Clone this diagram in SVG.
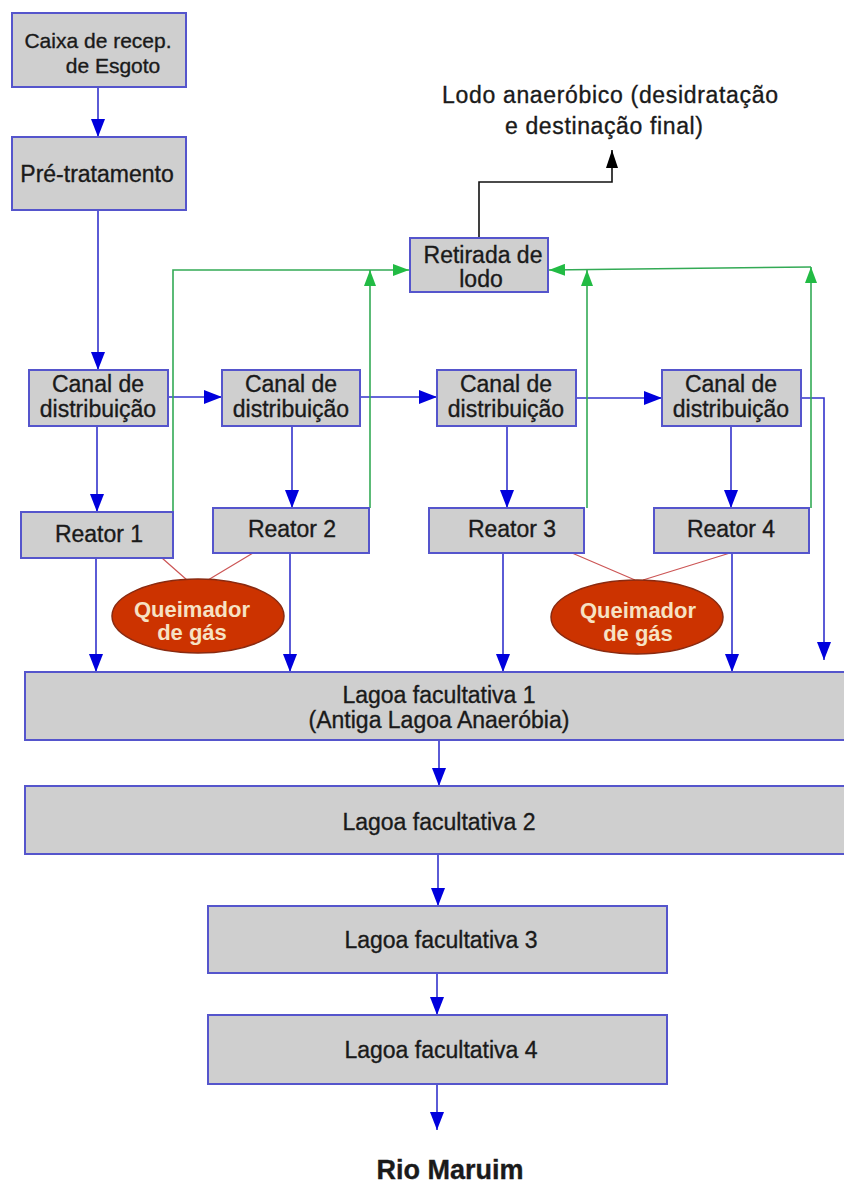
<svg xmlns="http://www.w3.org/2000/svg" width="844" height="1185" viewBox="0 0 844 1185">
<defs>
<style>
.box{fill:#cfcfcf;stroke:#5555cc;stroke-width:2}
.t{font-family:"Liberation Sans",Arial,sans-serif;font-size:23px;fill:#1a1a1a;stroke:#1a1a1a;stroke-width:0.35;text-anchor:middle}
.q{font-family:"Liberation Sans",Arial,sans-serif;font-size:22px;font-weight:bold;fill:#f6e2c4;text-anchor:middle}
.blue{fill:none;stroke:#3333cc;stroke-width:1.6}
.green{fill:none;stroke:#33aa55;stroke-width:1.6}
.black{fill:none;stroke:#111;stroke-width:1.6}
.red{fill:none;stroke:#cc5555;stroke-width:1.2}
.burner{fill:#cc3300;stroke:#8a2a10;stroke-width:1.5}
</style>
<marker id="ab" viewBox="0 0 18 14" refX="18" refY="7" markerWidth="18" markerHeight="14" markerUnits="userSpaceOnUse" orient="auto"><path d="M0,0 L18,7 L0,14 z" fill="#0000dd"/></marker>
<marker id="ag" viewBox="0 0 16 12" refX="16" refY="6" markerWidth="16" markerHeight="12" markerUnits="userSpaceOnUse" orient="auto"><path d="M0,0 L16,6 L0,12 z" fill="#22bb44"/></marker>
<marker id="ak" viewBox="0 0 18 12" refX="18" refY="6" markerWidth="18" markerHeight="12" markerUnits="userSpaceOnUse" orient="auto"><path d="M0,0 L18,6 L0,12 z" fill="#000"/></marker>
</defs>
<rect width="844" height="1185" fill="#fff"/>

<g id="connectors">
<path class="blue" marker-end="url(#ab)" d="M98,87 V137"/>
<path class="blue" marker-end="url(#ab)" d="M98,210 V370"/>
<path class="blue" marker-end="url(#ab)" d="M168,397 H222"/>
<path class="blue" marker-end="url(#ab)" d="M360,397 H437"/>
<path class="blue" marker-end="url(#ab)" d="M576,398 H662"/>
<path class="blue" marker-end="url(#ab)" d="M801,398 H824 V660"/>
<path class="blue" marker-end="url(#ab)" d="M97,426 V512"/>
<path class="blue" marker-end="url(#ab)" d="M292,426 V508"/>
<path class="blue" marker-end="url(#ab)" d="M507,426 V508"/>
<path class="blue" marker-end="url(#ab)" d="M731,426 V508"/>
<path class="blue" marker-end="url(#ab)" d="M96,558 V672"/>
<path class="blue" marker-end="url(#ab)" d="M290,553 V672"/>
<path class="blue" marker-end="url(#ab)" d="M503,553 V672"/>
<path class="blue" marker-end="url(#ab)" d="M732,553 V672"/>
<path class="blue" marker-end="url(#ab)" d="M439,740 V786"/>
<path class="blue" marker-end="url(#ab)" d="M438,854 V906"/>
<path class="blue" marker-end="url(#ab)" d="M437,973 V1015"/>
<path class="blue" marker-end="url(#ab)" d="M437,1084 V1130"/>
<path class="black" marker-end="url(#ak)" d="M479,238 V182 H612 V150"/>
<path class="green" marker-end="url(#ag)" d="M173,512 V270 H409"/>
<path class="green" marker-end="url(#ag)" d="M370,508 V270"/>
<path class="green" marker-end="url(#ag)" d="M587,508 V270"/>
<path class="green" marker-end="url(#ag)" d="M811,508 V267"/>
<path class="green" marker-end="url(#ag)" d="M811,267 L549,270"/>
<path class="red" d="M162,558 L187,580 M253,553 L208,580 M572,553 L635,580 M730,553 L643,580"/>
</g>

<g id="caixa"><rect class="box" x="12" y="13" width="174" height="74"/><text class="t" x="98" y="48" style="font-size:21px">Caixa de recep.</text><text class="t" x="113" y="73" style="font-size:21px">de Esgoto</text></g>
<g id="pretratamento"><rect class="box" x="12" y="137" width="174" height="73"/><text class="t" x="97" y="182">Pré-tratamento</text></g>
<g id="canal1"><rect class="box" x="29" y="370" width="139" height="56"/><text class="t" x="98" y="392">Canal de</text><text class="t" x="98" y="417">distribuição</text></g>
<g id="canal2"><rect class="box" x="222" y="370" width="138" height="56"/><text class="t" x="291" y="392">Canal de</text><text class="t" x="291" y="417">distribuição</text></g>
<g id="canal3"><rect class="box" x="437" y="370" width="139" height="56"/><text class="t" x="506" y="392">Canal de</text><text class="t" x="506" y="417">distribuição</text></g>
<g id="canal4"><rect class="box" x="662" y="370" width="139" height="56"/><text class="t" x="731" y="392">Canal de</text><text class="t" x="731" y="417">distribuição</text></g>
<g id="reator1"><rect class="box" x="21" y="512" width="152" height="46"/><text class="t" x="99" y="542">Reator 1</text></g>
<g id="reator2"><rect class="box" x="213" y="508" width="156" height="45"/><text class="t" x="292" y="537">Reator 2</text></g>
<g id="reator3"><rect class="box" x="429" y="508" width="155" height="45"/><text class="t" x="512" y="537">Reator 3</text></g>
<g id="reator4"><rect class="box" x="654" y="508" width="155" height="45"/><text class="t" x="731" y="537">Reator 4</text></g>
<g id="retirada"><rect class="box" x="410" y="238" width="138" height="54"/><text class="t" x="483" y="263">Retirada de</text><text class="t" x="481" y="287">lodo</text></g>
<g id="lodo"><text class="t" x="610" y="103" textLength="336">Lodo anaeróbico (desidratação</text><text class="t" x="604" y="134" textLength="198">e destinação final)</text></g>
<g id="queimador1"><ellipse class="burner" cx="198" cy="616" rx="86" ry="37"/><text class="q" x="192" y="617">Queimador</text><text class="q" x="192" y="640">de gás</text></g>
<g id="queimador2"><ellipse class="burner" cx="637" cy="617" rx="86" ry="37"/><text class="q" x="638" y="618">Queimador</text><text class="q" x="638" y="641">de gás</text></g>
<g id="lagoa1"><rect class="box" x="25" y="672" width="830" height="68"/><text class="t" x="439" y="703">Lagoa facultativa 1</text><text class="t" x="439" y="728">(Antiga Lagoa Anaeróbia)</text></g>
<g id="lagoa2"><rect class="box" x="25" y="786" width="830" height="68"/><text class="t" x="439" y="830">Lagoa facultativa 2</text></g>
<g id="lagoa3"><rect class="box" x="208" y="906" width="459" height="67"/><text class="t" x="441" y="948">Lagoa facultativa 3</text></g>
<g id="lagoa4"><rect class="box" x="208" y="1015" width="459" height="69"/><text class="t" x="441" y="1058">Lagoa facultativa 4</text></g>
<g id="rio"><text class="t" x="450" y="1179" style="font-size:27px;font-weight:bold">Rio Maruim</text></g>
</svg>
